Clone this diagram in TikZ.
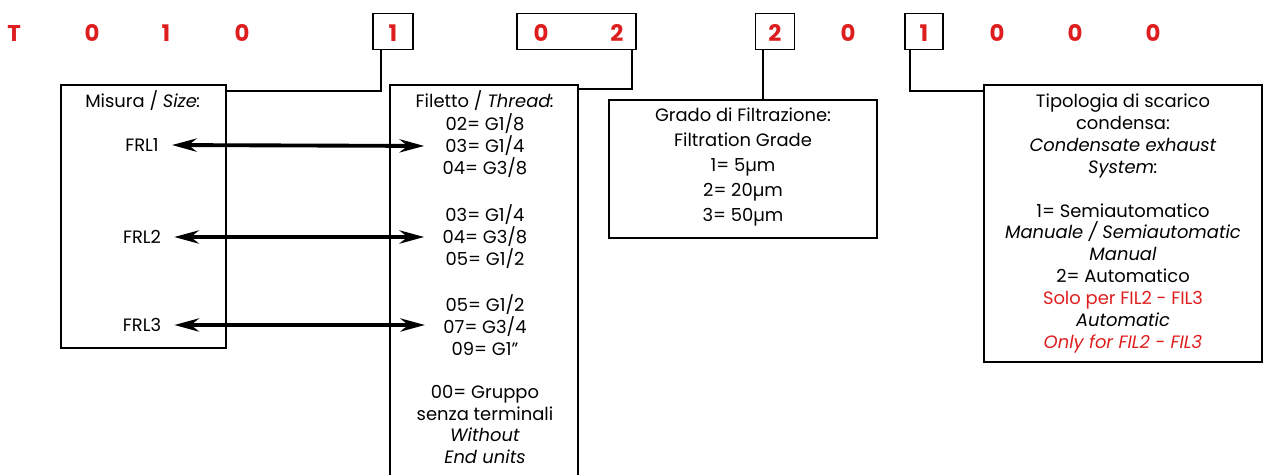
\documentclass[tikz,border=0pt]{standalone}
\usepackage{fontspec}
\setmainfont{Poppins}
\usetikzlibrary{arrows.meta}
\definecolor{codered}{RGB}{222,30,30}

\begin{document}
\begin{tikzpicture}[x=0.02cm,y=-0.02cm,>={Stealth[length=14pt,width=7.5pt]},
  digit/.style={font=\fontsize{13}{15}\selectfont\bfseries,text=codered},
  digbox/.style={draw,line width=1pt,minimum height=0.72cm},
  panel/.style={draw,line width=1pt,inner sep=0pt},
  txt/.style={align=center,font=\fontsize{10.2}{12.5}\selectfont},
  link/.style={line width=1pt},
  pair/.style={<->,line width=2.2pt,shorten <=4pt,shorten >=7pt}]
\useasboundingbox (0,0) rectangle (1264,474);
% code digits
\node[digit] (t)  at (14,33) {T};
\node[digit] (d1) at (92,33) {0};
\node[digit] (d2) at (166,33) {1};
\node[digit] (d3) at (242,33) {0};
\node[digit] (d4) at (393,33) {1};
\node[digit] (d5) at (541,33) {0};
\node[digit] (d6) at (617,33) {2};
\node[digit] (d7) at (775,33) {2};
\node[digit] (d8) at (848,33) {0};
\node[digit] (d9) at (924,33) {1};
\node[digit] (d10) at (997,33) {0};
\node[digit] (d11) at (1075,33) {0};
\node[digit] (d12) at (1153,33) {0};
\node[digbox,minimum width=0.8cm] (bsize) at (393,31.5) {};
\node[digbox,minimum width=2.38cm] (bthread) at (576.5,31.5) {};
\node[digbox,minimum width=0.78cm] (bgrade) at (775,31.5) {};
\node[digbox,minimum width=0.76cm] (bdrain) at (924,31.5) {};
% panels
\node[panel,minimum width=3.3cm,minimum height=5.26cm] (size) at (143.5,216.5) {};
\node[panel,minimum width=3.76cm,minimum height=7.9cm] (thread) at (484,282.5) {};
\node[panel,minimum width=5.36cm,minimum height=2.76cm] (grade) at (743,169) {};
\node[panel,minimum width=5.56cm,minimum height=5.54cm] (drain) at (1123,223.5) {};
\draw[link] ([xshift=-0.24cm]bsize.south) |- ([yshift=-0.14cm]size.north east);
\draw[link] ([xshift=-0.1cm]bthread.south east) |- ([yshift=-0.1cm]thread.north east);
\coordinate (g) at ([xshift=0.4cm]grade.north);
\draw[link] (g |- bgrade.south) -- (g);
\draw[link] ([xshift=-0.28cm]bdrain.south) |- ([yshift=-0.14cm]drain.north west);
% size panel
\node[txt] (shead) at (143,101) {Misura / \textit{Size:}};
\node[txt] (frl1) at (142,145) {FRL1};
\node[txt] (frl2) at (142,237) {FRL2};
\node[txt] (frl3) at (142,325) {FRL3};
% thread panel
\node[txt] (thead) at (485,101) {Filetto / \textit{Thread:}};
\node[txt] (thr1) at (485,146) {02= G1/8\\03= G1/4\\04= G3/8};
\node[txt] (thr2) at (485,237) {03= G1/4\\04= G3/8\\05= G1/2};
\node[txt] (thr3) at (485,325) {05= G1/2\\07= G3/4\\09= G1''};
\node[txt] (thr0) at (485,424.5) {00= Gruppo\\senza terminali\\\textit{Without}\\\textit{End units}};
\draw[pair] (frl1.east) -- (thr1.west);
\draw[pair] (frl2.east) -- (thr2.west);
\draw[pair] (frl3.east) -- (thr3.west);
% grade panel
\node[txt,font=\fontsize{10.2}{14.2}\selectfont] (gtext) at (743,167) {Grado di Filtrazione:\\Filtration Grade\\1= 5µm\\2= 20µm\\3= 50µm};
% drain panel
\node[txt] (dtext) at (1123,223.5) {Tipologia di scarico\\condensa:\\\textit{Condensate exhaust}\\\textit{System:}\\[12.5pt]
  1= Semiautomatico\\\textit{Manuale / Semiautomatic}\\\textit{Manual}\\2= Automatico\\
  \textcolor{codered}{Solo per FIL2 - FIL3}\\\textit{Automatic}\\\textcolor{codered}{\textit{Only for FIL2 - FIL3}}};
\end{tikzpicture}
\end{document}
